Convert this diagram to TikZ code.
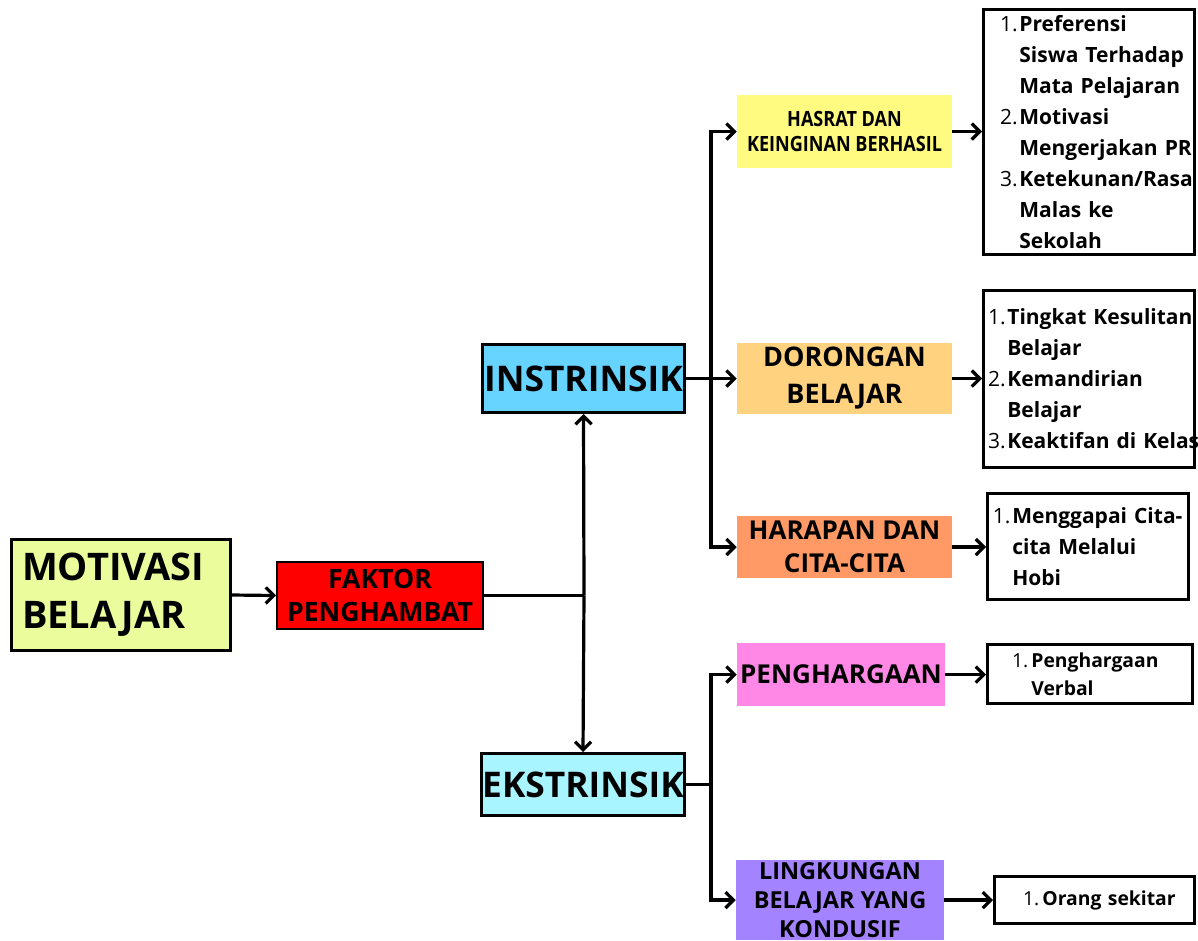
\documentclass[tikz,border=0pt]{standalone}
\usepackage{fontspec}
\setmainfont{Open Sans}
\newfontfamily\condfont[FakeStretch=0.86]{Open Sans}
\usetikzlibrary{arrows.meta}
\definecolor{cMot}{HTML}{EAFC9C}
\definecolor{cRed}{HTML}{FF0000}
\definecolor{cIn}{HTML}{66D4FF}
\definecolor{cEk}{HTML}{A8F4FF}
\definecolor{cHas}{HTML}{FFFB80}
\definecolor{cDor}{HTML}{FFD27F}
\definecolor{cHar}{HTML}{FF9A66}
\definecolor{cPen}{HTML}{FF88E6}
\definecolor{cLin}{HTML}{A383FF}
\newcommand{\nitem}[2]{\mbox{\makebox[14.5pt][l]{\mdseries #1}#2}}
\newcommand{\citem}[1]{\mbox{\hspace*{14.5pt}#1}}
\begin{document}
\begin{tikzpicture}[x=0.75pt,y=-0.75pt,
  every node/.style={font=\bfseries, text=black},
  hbox/.style={rectangle, inner sep=0pt, align=center},
  blackbox/.style={hbox, draw=black, line width=2.25pt},
  lbox/.style={rectangle, draw=black, line width=2.25pt, inner ysep=0pt, align=left},
  conn/.style={line width=2.4pt, draw=black, line join=miter},
  arr/.style={conn, -{Straight Barb[length=6pt,width=12pt]}}
]
\fill[white] (0,0) rectangle (1198,940);
\useasboundingbox (0,0) rectangle (1198,940);
\clip (0,0) rectangle (1198,940);

% left column
\node[blackbox, fill=cMot, minimum width=164.25pt, minimum height=83.25pt,
      align=left, inner xsep=7.9pt, text width=148.45pt,
      font=\bfseries\fontsize{28.5pt}{36pt}\selectfont] (mb) at (121,595) {MOTIVASI\\BELAJAR};
\node[hbox, draw=black, line width=1.5pt, fill=cRed, minimum width=154.5pt, minimum height=50.25pt,
      font=\bfseries\fontsize{20pt}{25pt}\selectfont] (fp) at (380,595.5) {FAKTOR\\PENGHAMBAT};

% middle column
\node[blackbox, fill=cIn, minimum width=151.5pt, minimum height=51pt,
      font=\bfseries\fontsize{26.5pt}{32pt}\selectfont] (in) at (583.5,378.5) {INSTRINSIK};
\node[blackbox, fill=cEk, minimum width=152.25pt, minimum height=46.5pt,
      font=\bfseries\fontsize{26.5pt}{32pt}\selectfont] (ek) at (583,784.5) {EKSTRINSIK};

% category boxes
\node[hbox, fill=cHas, minimum width=161.25pt, minimum height=54.75pt,
      font=\condfont\bfseries\fontsize{15.75pt}{18.75pt}\selectfont] (h1) at (844.5,131.5) {HASRAT DAN\\KEINGINAN BERHASIL};
\node[hbox, fill=cDor, minimum width=161.25pt, minimum height=53.25pt,
      font=\bfseries\fontsize{20.25pt}{27.75pt}\selectfont] (h2) at (844.5,378.5) {DORONGAN\\BELAJAR};
\node[hbox, fill=cHar, minimum width=161.25pt, minimum height=46.5pt,
      font=\bfseries\fontsize{19.5pt}{24.75pt}\selectfont] (h3) at (844.5,547) {HARAPAN DAN\\CITA-CITA};
\node[hbox, fill=cPen, minimum width=156pt, minimum height=47.25pt,
      font=\bfseries\fontsize{19.5pt}{24pt}\selectfont] (e1) at (841,674.5) {PENGHARGAAN};
\node[hbox, fill=cLin, minimum width=156pt, minimum height=60pt,
      font=\bfseries\fontsize{17.6pt}{21.75pt}\selectfont] (e2) at (840,900) {LINGKUNGAN\\BELAJAR YANG\\KONDUSIF};

% list boxes
\node[lbox, minimum width=158.25pt, minimum height=183.75pt, inner xsep=12.4pt, text width=133.45pt,
      font=\bfseries\fontsize{15.75pt}{23.25pt}\selectfont] (l1) at (1089,132)
  {\nitem{1.}{Preferensi}\\\citem{Siswa Terhadap}\\\citem{Mata Pelajaran}\\
   \nitem{2.}{Motivasi}\\\citem{Mengerjakan PR}\\
   \nitem{3.}{Ketekunan/Rasa}\\\citem{Malas ke}\\\citem{Sekolah}};
\node[lbox, minimum width=158.25pt, minimum height=132.75pt, inner xsep=3.4pt, text width=151.45pt,
      font=\bfseries\fontsize{15.75pt}{23.25pt}\selectfont] (l2) at (1089,379)
  {\nitem{1.}{Tingkat Kesulitan}\\\citem{Belajar}\\
   \nitem{2.}{Kemandirian}\\\citem{Belajar}\\
   \nitem{3.}{Keaktifan di Kelas}};
\node[lbox, minimum width=150.75pt, minimum height=79.5pt, inner xsep=4.1pt, text width=142.55pt,
      font=\bfseries\fontsize{15.75pt}{23.25pt}\selectfont] (l3) at (1088,546.5)
  {\nitem{1.}{Menggapai Cita-}\\\citem{cita Melalui}\\\citem{Hobi}};
\node[lbox, minimum width=153.75pt, minimum height=44.25pt, inner xsep=18.4pt, text width=116.95pt,
      font=\bfseries\fontsize{14.5pt}{21pt}\selectfont] (l4) at (1090,674)
  {\nitem{1.}{Penghargaan}\\\citem{Verbal}};
\node[lbox, minimum width=150pt, minimum height=35.25pt, inner xsep=21.4pt, text width=107.2pt,
      font=\bfseries\fontsize{14.5pt}{21pt}\selectfont] (l5) at (1094.5,900)
  {\nitem{1.}{Orang sekitar}};

% junctions
\coordinate (j) at (584,595.5);
\coordinate (ti) at (711,378.5);
\coordinate (te) at (711,784.5);

% connectors
\draw[arr] (mb.east) -- (fp.west);
\draw[conn] (fp.east) -- (j);
\draw[arr] (j) -- (in.south);
\draw[arr] (j) -- (ek.north);
\draw[conn] (in.east) -- (ti);
\draw[arr] (ti) |- (h1.west);
\draw[arr] (ti) -- (h2.west);
\draw[arr] (ti) |- (h3.west);
\draw[conn] (ek.east) -- (te);
\draw[arr] (te) |- (e1.west);
\draw[arr] (te) |- (e2.west);
\draw[arr] (h1.east) -- (l1.west |- h1.east);
\draw[arr] (h2.east) -- (l2.west |- h2.east);
\draw[arr] (h3.east) -- (l3.west |- h3.east);
\draw[arr] (e1.east) -- (l4.west |- e1.east);
\draw[arr] (e2.east) -- (l5.west);
\end{tikzpicture}
\end{document}
